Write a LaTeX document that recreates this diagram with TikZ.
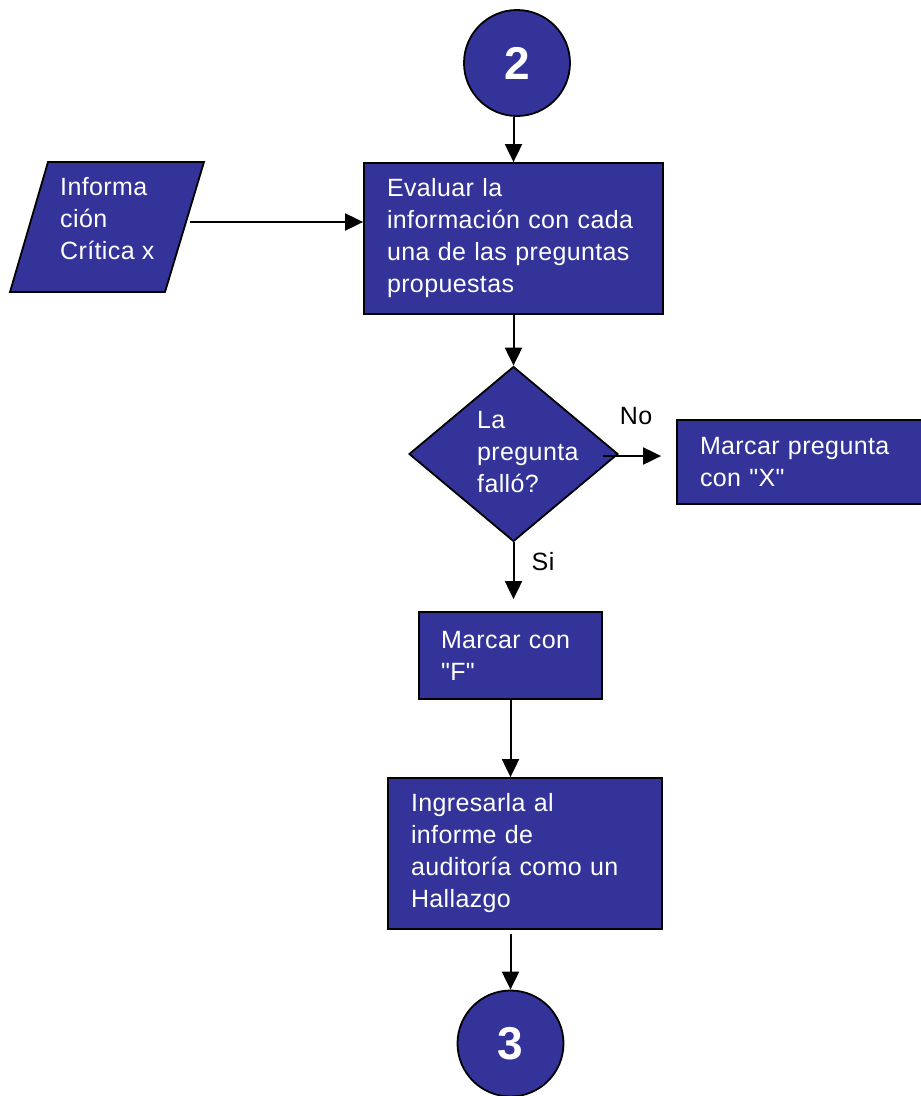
\documentclass[tikz,border=0pt]{standalone}
\usepackage{fontspec}
\setmainfont[LetterSpace=1.5,Ligatures=TeXOff]{Liberation Sans}
\usetikzlibrary{shapes.geometric,arrows.meta}
\definecolor{boxblue}{RGB}{51,51,153}
\newcommand\fsz{\fontsize{25}{32}\selectfont}
\begin{document}
\begin{tikzpicture}[x=1pt,y=-1pt,
  proc/.style={rectangle,draw=black,line width=1.8pt,fill=boxblue,text=white,align=left,inner ysep=0pt,font=\fsz},
  con/.style={circle,draw=black,line width=1.8pt,fill=boxblue,text=white,minimum size=106pt,inner sep=0pt,font=\bfseries\fontsize{46}{46}\selectfont},
  arr/.style={-{Triangle[length=18pt,width=17pt]},line width=2pt},
  lbl/.style={font=\fsz,text=black,inner sep=0pt}]
\useasboundingbox (0,0) rectangle (921,1096);

\node[con] (c2) at (517,63) {2};
\node[proc,minimum width=299pt,minimum height=151pt,text width=253pt,inner xsep=23pt] (eval) at (513.5,238.5)
  {Evaluar la\\información con cada\\una de las preguntas\\propuestas};

% input parallelogram
\filldraw[draw=black,line width=1.8pt,fill=boxblue] (48,162) -- (204,162) -- (165,292) -- (10,292) -- cycle;
\node[font=\fsz,text=white,align=left,anchor=west,inner sep=0pt] (info) at (60,219) {Informa\\ción\\Crítica x};
\coordinate (infoR) at (190,222);

\node[diamond,draw=black,line width=1.8pt,fill=boxblue,minimum width=209pt,minimum height=175pt,inner sep=0pt] (dec) at (513.5,454) {};
\node[font=\fsz,text=white,align=left,anchor=west,inner sep=0pt] (dq) at (477,452) {La\\pregunta\\falló?};

\node[proc,minimum width=258pt,minimum height=84pt,text width=212pt,inner xsep=23pt] (mp) at (806,462)
  {Marcar pregunta\\con "X"};
\node[proc,minimum width=183pt,minimum height=87pt,text width=139pt,inner xsep=22pt] (mf) at (510.5,655.5)
  {Marcar con\\"F"};
\node[proc,minimum width=274pt,minimum height=151pt,text width=228pt,inner xsep=23pt] (ing) at (525,853.5)
  {Ingresarla al\\informe de\\auditoría como un\\Hallazgo};
\node[con] (c3) at (510.5,1043.5) {3};

\node[lbl] (no) at (636,416) {No};
\node[lbl] (si) at (543,562) {Si};

% connectors
\draw[arr] (c2.south -| eval.north) -- (eval.north);
\draw[arr] (infoR) -- (infoR -| eval.west);
\draw[arr] (eval.south) -- (dec.north);
\draw[arr] ([xshift=-16pt,yshift=-2pt]dec.east) -- ([xshift=-15pt,yshift=-2pt]dec.east -| mp.west);
\draw[arr] (dec.south) -- ([yshift=12pt]mf.north -| dec.south);
\draw[arr] (mf.south) -- (mf.south |- ing.north);
\draw[arr] ([yshift=-4pt]c3.north |- ing.south) -- (c3.north);
\end{tikzpicture}
\end{document}
